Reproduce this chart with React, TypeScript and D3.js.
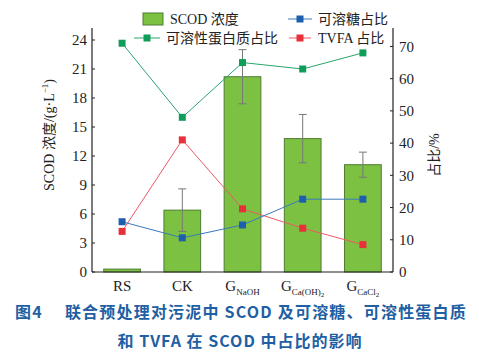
import React from "react";
import * as d3 from "d3";

const categories = ["RS", "CK", "GNaOH", "GCaOH2", "GCaCl2"];
const scod = [0.3, 6.4, 20.2, 13.8, 11.1];
const scodErr = [0.05, 2.2, 2.8, 2.5, 1.3];
const sugar = [15.6, 10.6, 14.6, 22.6, 22.6];
const protein = [71, 48, 65, 63, 68];
const tvfa = [12.6, 41, 19.6, 13.6, 8.5];
const leftTicks = [0, 3, 6, 9, 12, 15, 18, 21, 24];
const rightTicks = [0, 10, 20, 30, 40, 50, 60, 70];

const W = 479, H = 356;
const L = 92, R = 393, B = 272, T = 28;

export default function App() {
  const x = d3.scaleBand<string>().domain(categories).range([L, R]).paddingInner(0.39).paddingOuter(0.195);
  const yL = d3.scaleLinear().domain([0, 24]).range([B, B - 232]);
  const yR = d3.scaleLinear().domain([0, 72]).range([B, B - 232]);
  const cx = (c: string) => (x(c) as number) + x.bandwidth() / 2;
  const serif = "'Liberation Serif', 'Times New Roman', serif";
  const cjk = "'Noto Sans CJK SC', sans-serif";

  const mk = (vals: number[]) =>
    d3.line<number>().x((_, i) => cx(categories[i])).y((v) => yR(v))(vals) as string;

  const series = [
    { vals: protein, line: "#2aa56c", mark: "#0f9e5a" },
    { vals: tvfa, line: "#ee5a62", mark: "#e8303a" },
    { vals: sugar, line: "#3a78bd", mark: "#1d5fae" },
  ];

  const xLabel = (c: string) => {
    if (c === "RS" || c === "CK") return <tspan>{c}</tspan>;
    if (c === "GNaOH")
      return (
        <>
          <tspan>G</tspan>
          <tspan fontSize={9} dy={4}>NaOH</tspan>
        </>
      );
    if (c === "GCaOH2")
      return (
        <>
          <tspan>G</tspan>
          <tspan fontSize={9} dy={4}>Ca(OH)</tspan>
          <tspan fontSize={7} dy={2}>2</tspan>
        </>
      );
    return (
      <>
        <tspan>G</tspan>
        <tspan fontSize={9} dy={4}>CaCl</tspan>
        <tspan fontSize={7} dy={2}>2</tspan>
      </>
    );
  };

  return (
    <div style={{ position: "absolute", left: 0, top: 0 }}>
      <svg width={W} height={H} style={{ display: "block", background: "#fff" }}>
        {categories.map((c, i) => (
          <rect key={c} x={x(c)} y={yL(scod[i])} width={x.bandwidth()} height={B - yL(scod[i])}
            fill="#7cc142" stroke="#4d7d31" strokeWidth={1} />
        ))}
        {categories.map((c, i) => {
          const xc = cx(c);
          const hi = yL(scod[i] + scodErr[i]);
          const lo = yL(scod[i] - scodErr[i]);
          if (scodErr[i] < 0.2) return null;
          return (
            <g key={c} stroke="#777" strokeWidth={1}>
              <line x1={xc} x2={xc} y1={hi} y2={lo} />
              <line x1={xc - 4} x2={xc + 4} y1={hi} y2={hi} />
              <line x1={xc - 4} x2={xc + 4} y1={lo} y2={lo} />
            </g>
          );
        })}
        {series.map((s, k) => (
          <g key={k}>
            <path d={mk(s.vals)} fill="none" stroke={s.line} strokeWidth={1} />
            {s.vals.map((v, i) => (
              <rect key={i} x={cx(categories[i]) - 3.5} y={yR(v) - 3.5} width={7} height={7} fill={s.mark} />
            ))}
          </g>
        ))}
        <g stroke="#222" strokeWidth={1.2} fill="none">
          <line x1={L} x2={L} y1={T} y2={B} />
          <line x1={R} x2={R} y1={T} y2={B} />
          <line x1={L} x2={R} y1={B} y2={B} />
        </g>
        {leftTicks.map((t) => (
          <g key={t}>
            <line x1={L} x2={L + 3} y1={yL(t)} y2={yL(t)} stroke="#222" />
            <text x={L - 5} y={yL(t)} dy="0.35em" textAnchor="end" fontFamily={serif} fontSize={15} fill="#222">{t}</text>
          </g>
        ))}
        {rightTicks.map((t) => (
          <g key={t}>
            <line x1={R - 3} x2={R} y1={yR(t)} y2={yR(t)} stroke="#222" />
            <text x={R + 6} y={yR(t)} dy="0.35em" textAnchor="start" fontFamily={serif} fontSize={15} fill="#222">{t}</text>
          </g>
        ))}
        {categories.map((c) => (
          <text key={c} x={cx(c)} y={291} textAnchor="middle" fontFamily={serif} fontSize={15} fill="#222">{xLabel(c)}</text>
        ))}
        <text transform="translate(54,135) rotate(-90)" textAnchor="middle" fontSize={14} fill="#222">
          <tspan fontFamily={serif}>SCOD </tspan>
          <tspan fontFamily={cjk}>浓度</tspan>
          <tspan fontFamily={serif}>/(g·L</tspan>
          <tspan fontFamily={serif} fontSize={9} dy={-6}>−1</tspan>
          <tspan fontFamily={serif} dy={6}>)</tspan>
        </text>
        <text transform="translate(439,155) rotate(-90)" textAnchor="middle" fontSize={14} fill="#222">
          <tspan fontFamily={cjk}>占比</tspan>
          <tspan fontFamily={serif}>/%</tspan>
        </text>
        <rect x={143} y={13} width={20} height={12} fill="#7cc142" stroke="#4d7d31" />
        <text x={170} y={24} fontSize={14} fill="#222">
          <tspan fontFamily={serif}>SCOD </tspan><tspan fontFamily={cjk}>浓度</tspan>
        </text>
        <line x1={288} x2={312} y1={19} y2={19} stroke="#3a78bd" />
        <rect x={296.5} y={15.5} width={7} height={7} fill="#1d5fae" />
        <text x={318} y={24} fontSize={14} fill="#222" fontFamily={cjk}>可溶糖占比</text>
        <line x1={134} x2={160} y1={38} y2={38} stroke="#2aa56c" />
        <rect x={143.5} y={34.5} width={7} height={7} fill="#0f9e5a" />
        <text x={166} y={43} fontSize={14} fill="#222" fontFamily={cjk}>可溶性蛋白质占比</text>
        <line x1={289} x2={311} y1={38} y2={38} stroke="#ee5a62" />
        <rect x={296.5} y={34.5} width={7} height={7} fill="#e8303a" />
        <text x={318} y={43} fontSize={14} fill="#222">
          <tspan fontFamily={serif}>TVFA </tspan><tspan fontFamily={cjk}>占比</tspan>
        </text>
        <text x={241} y={318} textAnchor="middle" fontFamily={cjk} fontWeight="bold" fontSize={16} letterSpacing={1.2} fill="#1f5fa3">
          图4　 联合预处理对污泥中 SCOD 及可溶糖、可溶性蛋白质
        </text>
        <text x={240} y={347} textAnchor="middle" fontFamily={cjk} fontWeight="bold" fontSize={16} letterSpacing={1} fill="#1f5fa3">
          和 TVFA 在 SCOD 中占比的影响
        </text>
      </svg>
    </div>
  );
}
